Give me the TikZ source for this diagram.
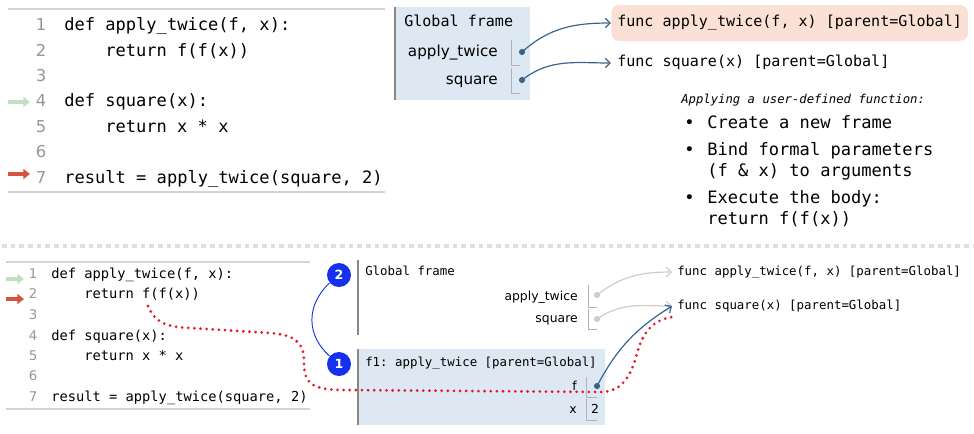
\documentclass[tikz,border=0pt]{standalone}
\usepackage{fontspec}
\setmainfont{DejaVu Sans}
\setsansfont{DejaVu Sans}
\setmonofont{DejaVu Sans Mono}
\usetikzlibrary{arrows.meta}

\definecolor{framebg}{RGB}{222,232,243}
\definecolor{framebar}{RGB}{135,135,135}
\definecolor{pointer}{RGB}{58,100,140}
\definecolor{pinkbg}{RGB}{251,224,214}
\definecolor{lineno}{RGB}{150,150,150}
\definecolor{rulec}{RGB}{212,212,212}
\definecolor{cellc}{RGB}{178,178,178}
\definecolor{nextc}{RGB}{196,222,196}
\definecolor{curc}{RGB}{214,84,62}
\definecolor{stepblue}{RGB}{22,48,240}
\definecolor{tracec}{RGB}{232,24,44}
\definecolor{fadedc}{RGB}{205,205,205}
\definecolor{sepc}{RGB}{224,224,224}

\begin{document}
\begin{tikzpicture}[x=0.75pt,y=-0.75pt,
  % text styles
  codebig/.style={anchor=west, inner sep=0pt, font=\ttfamily\fontsize{12.8}{15}\selectfont, text height=9.6pt, text depth=3.2pt},
  numbig/.style={inner sep=0pt, text=lineno, font=\sffamily\fontsize{12.3}{15}\selectfont, text height=9.2pt, text depth=3.1pt},
  codesmall/.style={anchor=west, inner sep=0pt, font=\ttfamily\fontsize{10.3}{12}\selectfont, text height=7.7pt, text depth=2.6pt},
  numsmall/.style={inner sep=0pt, text=lineno, font=\sffamily\fontsize{10}{12}\selectfont, text height=7.5pt, text depth=2.5pt},
  monoA/.style={anchor=west, inner sep=0pt, font=\ttfamily\fontsize{11.3}{13}\selectfont, text height=8.5pt, text depth=2.8pt},
  sansA/.style={anchor=east, inner sep=0pt, font=\sffamily\fontsize{11.4}{13}\selectfont, text height=8.6pt, text depth=2.9pt},
  monoB/.style={anchor=west, inner sep=0pt, font=\ttfamily\fontsize{9.3}{11}\selectfont, text height=7pt, text depth=2.3pt},
  sansB/.style={anchor=east, inner sep=0pt, font=\sffamily\fontsize{9.3}{11}\selectfont, text height=7pt, text depth=2.3pt},
  notetitle/.style={anchor=west, inner sep=0pt, font=\ttfamily\itshape\fontsize{9.2}{11}\selectfont, text height=6.9pt, text depth=2.3pt},
  % graphic styles
  rulegray/.style={draw=rulec, line width=0.9pt},
  framebox/.style={fill=framebg, draw=none},
  bar/.style={draw=framebar, line width=1.5pt},
  cell/.style={draw=cellc, line width=0.7pt},
  dot/.style={circle, fill=pointer, inner sep=0pt, minimum size=4.6pt},
  fadeddot/.style={circle, fill=fadedc, inner sep=0pt, minimum size=4.6pt},
  ptr/.style={draw=pointer, line width=0.9pt, -{Straight Barb[length=3.6pt,width=7pt]}},
  fadedptr/.style={draw=fadedc, line width=0.9pt, -{Straight Barb[length=3.6pt,width=7pt]}},
  nextmark/.style={draw=nextc, line width=2.8pt, -{Triangle[length=5pt,width=7.5pt]}},
  curmark/.style={draw=curc, line width=2.8pt, -{Triangle[length=5pt,width=7.5pt]}},
  stepnum/.style={circle, fill=stepblue, text=white, inner sep=0pt, minimum size=18pt, font=\sffamily\bfseries\fontsize{9.5}{11}\selectfont},
  trace/.style={draw=tracec, line width=2.3pt, line cap=round, dash pattern=on 0pt off 4.6pt}
]
\useasboundingbox (0,0) rectangle (974,433);

% ================= upper panel: code listing =================
\draw[rulegray] (8,9) -- (385,9);
\draw[rulegray] (8,192) -- (385,192);

\node[numbig] (na1) at (41,26) {1};
\node[numbig] (na2) at (41,52) {2};
\node[numbig] (na3) at (41,77) {3};
\node[numbig] (na4) at (41,102) {4};
\node[numbig] (na5) at (41,128) {5};
\node[numbig] (na6) at (41,153) {6};
\node[numbig] (na7) at (41,179) {7};

\node[codebig] (ca1) at (64,26) {def apply\_twice(f, x):};
\node[codebig] (ca2) at (105,52) {return f(f(x))};
\node[codebig] (ca4) at (64,102) {def square(x):};
\node[codebig] (ca5) at (105,128) {return x * x};
\node[codebig] (ca7) at (64,179) {result = apply\_twice(square, 2)};

\coordinate (nextA0) at (8,102);  \coordinate (nextA1) at (30,102);
\coordinate (curA0) at (8,174);   \coordinate (curA1) at (30,174);
\draw[nextmark] (nextA0) -- (nextA1);
\draw[curmark] (curA0) -- (curA1);

% ================= upper panel: global frame =================
\fill[framebox] (395,7) rectangle (530,100);
\draw[bar] (395,7) -- (395,100);
\node[monoA] (gfA) at (404,22.5) {Global frame};
\node[sansA] (vA1) at (498,53) {apply\_twice};
\node[sansA] (vA2) at (498,81) {square};
\draw[cell] (511,40) -- (511,65) -- (520,65);
\draw[cell] (511,68) -- (511,93) -- (520,93);
\node[dot] (dA1) at (522,52) {};
\node[dot] (dA2) at (522,80) {};

\node[monoA, fill=pinkbg, rounded corners=6pt, inner xsep=4.5pt, minimum height=27pt] (fnA1) at (611,23) {func apply\_twice(f, x) [parent=Global]};
\node[monoA, inner xsep=4.5pt] (fnA2) at (611,63) {func square(x) [parent=Global]};

\draw[ptr] (dA1.center) to[out=42,in=180] (fnA1.west);
\draw[ptr] (dA2.center) to[out=38,in=180] (fnA2.west);

% ================= upper panel: notes =================
\node[notetitle] (note) at (681,100) {Applying a user-defined function:};
\node[codebig] (b1) at (684,124) {\textbullet};
\node[codebig] (t1) at (707,124) {Create a new frame};
\node[codebig] (b2) at (684,151) {\textbullet};
\node[codebig] (t2) at (707,151) {Bind formal parameters};
\node[codebig] (t2b) at (707,172) {(f \& x) to arguments};
\node[codebig] (b3) at (684,199) {\textbullet};
\node[codebig] (t3) at (707,199) {Execute the body:};
\node[codebig] (t3b) at (707,220) {return f(f(x))};

% ================= separator =================
\coordinate (sepL) at (2,246);
\coordinate (sepR) at (974,246);
\draw[draw=sepc, line width=3pt, dash pattern=on 3.4pt off 3.1pt] (sepL) -- (sepR);

% ================= lower panel: code listing =================
\draw[rulegray] (6,262) -- (310,262);
\draw[rulegray] (6,409) -- (310,409);

\node[numsmall] (nb1) at (33,275) {1};
\node[numsmall] (nb2) at (33,295) {2};
\node[numsmall] (nb3) at (33,316) {3};
\node[numsmall] (nb4) at (33,337) {4};
\node[numsmall] (nb5) at (33,357) {5};
\node[numsmall] (nb6) at (33,377) {6};
\node[numsmall] (nb7) at (33,398) {7};

\node[codesmall] (cb1) at (51,275) {def apply\_twice(f, x):};
\node[codesmall] (cb2) at (84,295) {return f(f(x))};
\node[codesmall] (cb4) at (51,337) {def square(x):};
\node[codesmall] (cb5) at (84,357) {return x * x};
\node[codesmall] (cb7) at (51,398) {result = apply\_twice(square, 2)};

\coordinate (nextB0) at (6,279);  \coordinate (nextB1) at (24,279);
\coordinate (curB0) at (6,299);   \coordinate (curB1) at (24,299);
\draw[nextmark] (nextB0) -- (nextB1);
\draw[curmark] (curB0) -- (curB1);

% ================= lower panel: frames =================
\draw[bar] (358,260) -- (358,335);
\node[monoB] (gfB) at (365,272) {Global frame};
\node[sansB] (vB1) at (578,297) {apply\_twice};
\node[sansB] (vB2) at (578,319) {square};
\draw[cell] (588,285) -- (588,307) -- (597,307);
\draw[cell] (588,309) -- (588,329) -- (597,329);
\node[fadeddot] (dB1) at (597,295) {};
\node[fadeddot] (dB2) at (597,319) {};

\fill[framebox] (358,349) rectangle (605,425);
\draw[bar] (358,349) -- (358,425);
\node[monoB] (f1) at (365,363) {f1: apply\_twice [parent=Global]};
\node[sansB] (vF) at (577,387) {f};
\node[sansB] (vX) at (577,410) {x};
\draw[cell] (586,377) -- (586,397) -- (597,397);
\draw[cell] (586,399) -- (586,420) -- (597,420);
\node[sansB, anchor=center] (valX) at (595,410) {2};
\node[dot] (dF) at (597,386) {};

\node[monoB, inner xsep=3.75pt] (fnB1) at (672,272) {func apply\_twice(f, x) [parent=Global]};
\node[monoB, inner xsep=3.75pt] (fnB2) at (672,306) {func square(x) [parent=Global]};

\draw[fadedptr] (dB1.center) to[out=38,in=180] (fnB1.west);
\draw[fadedptr] (dB2.center) to[out=35,in=180] (fnB2.west);
\draw[ptr] (dF.center) to[out=62,in=212] (fnB2.west);

% ================= step markers =================
\node[stepnum] (s2) at (339,275) {2};
\node[stepnum] (s1) at (339,364) {1};
\draw[stepblue, line width=0.7pt] (s2.220) .. controls (306,305) and (306,335) .. (s1.140);

% ================= control-flow trace =================
\coordinate (traceStart) at (148,306);
\coordinate (traceEnd) at (672,317);
\draw[trace] (traceStart) .. controls (155,322) and (165,327) .. (190,328)
  -- (270,333) .. controls (298,335) and (304,345) .. (304,362)
  .. controls (304,384) and (312,390) .. (345,390)
  -- (600,392) .. controls (625,392) and (632,372) .. (638,350)
  .. controls (645,327) and (658,319) .. (traceEnd);

\end{tikzpicture}
\end{document}
